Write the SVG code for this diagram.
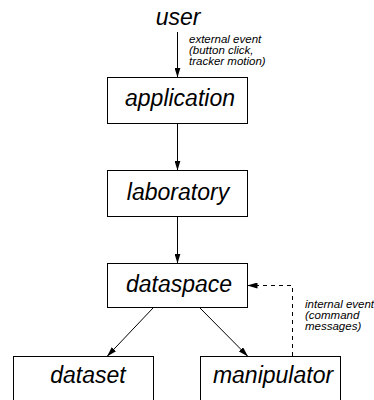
<svg xmlns="http://www.w3.org/2000/svg" width="374" height="400" viewBox="0 0 374 400">
<style>
.box{fill:#fff;stroke:#000;stroke-width:1}
.lbl{font-family:"Liberation Sans",Arial,sans-serif;font-style:italic;font-size:23px;fill:#000;text-anchor:middle}
.note{font-family:"Liberation Sans",Arial,sans-serif;font-style:italic;font-size:11.5px;fill:#000}
.conn{fill:none;stroke:#000;stroke-width:1}
.dash{stroke-dasharray:4,4}
</style>
<defs>
<marker id="ah" viewBox="0 0 10 6" refX="10" refY="3" markerWidth="10" markerHeight="6" orient="auto" markerUnits="userSpaceOnUse">
<path d="M0,0 L10,3 L0,6 Z" fill="#000"/>
</marker>
</defs>
<g id="user"><text class="lbl" x="178" y="25">user</text></g>
<g id="application"><rect class="box" x="107.5" y="77.5" width="140" height="46"/><text class="lbl" x="180" y="106">application</text></g>
<g id="laboratory"><rect class="box" x="107.5" y="170.5" width="140" height="46"/><text class="lbl" x="178" y="200">laboratory</text></g>
<g id="dataspace"><rect class="box" x="107.5" y="263.5" width="140" height="44"/><text class="lbl" x="179" y="292">dataspace</text></g>
<g id="dataset"><rect class="box" x="13.5" y="356.5" width="140" height="60"/><text class="lbl" x="88" y="383">dataset</text></g>
<g id="manipulator"><rect class="box" x="200.5" y="356.5" width="140" height="60"/><text class="lbl" x="273" y="383">manipulator</text></g>
<g id="connectors">
<line class="conn" x1="177.5" y1="32" x2="177.5" y2="77.5" marker-end="url(#ah)"/>
<line class="conn" x1="177.5" y1="124" x2="177.5" y2="170.5" marker-end="url(#ah)"/>
<line class="conn" x1="177.5" y1="217" x2="177.5" y2="263.5" marker-end="url(#ah)"/>
<line class="conn" x1="153" y1="308" x2="107" y2="356.5" marker-end="url(#ah)"/>
<line class="conn" x1="200" y1="308" x2="248" y2="356.5" marker-end="url(#ah)"/>
<polyline class="conn dash" points="292.5,356 292.5,285.5 247.5,285.5" marker-end="url(#ah)"/>
<text class="note" x="189" y="43">external event</text>
<text class="note" x="189" y="54">(button click,</text>
<text class="note" x="189" y="65">tracker motion)</text>
<text class="note" x="305" y="308">internal event</text>
<text class="note" x="305" y="319">(command</text>
<text class="note" x="305" y="330">messages)</text>
</g>
</svg>
